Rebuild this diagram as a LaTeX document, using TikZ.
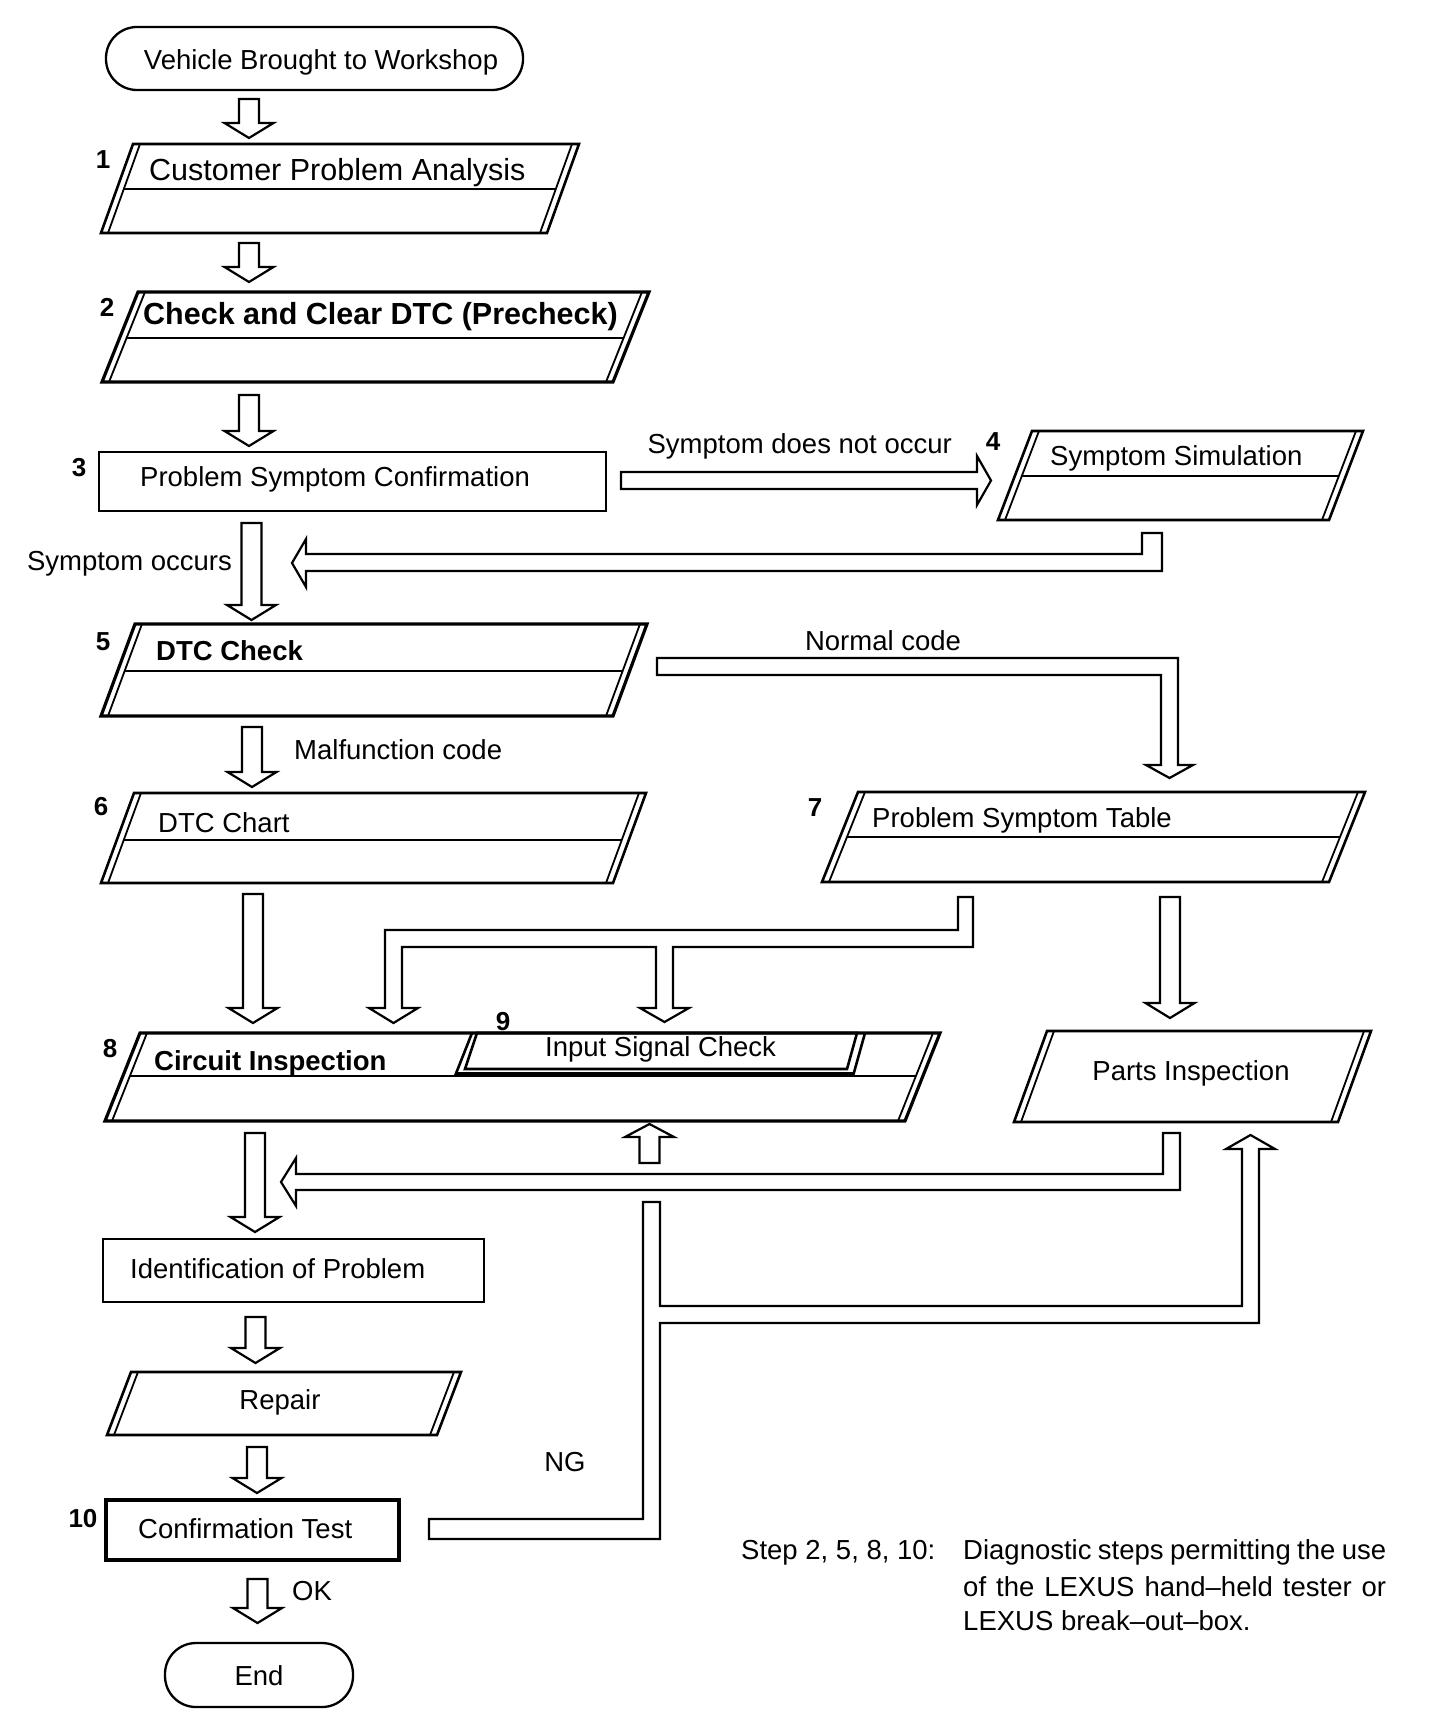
\documentclass[tikz,border=0pt]{standalone}
\usepackage{fontspec}
\setmainfont{Liberation Sans}
\usetikzlibrary{calc}
\tikzset{
  boxline/.style={line width=2.6pt, line join=miter},
  heavyline/.style={line width=3.2pt, line join=miter},
  innerline/.style={line width=1.8pt},
  arrowline/.style={line width=2.2pt, line join=miter, fill=white},
  txt/.style={font=\fontsize{27.5}{33}\selectfont, inner sep=0pt, text height=19.7pt, text depth=0pt},
  bigtxt/.style={font=\fontsize{30.5}{36}\selectfont, inner sep=0pt, text height=21.8pt, text depth=0pt},
  num/.style={font=\bfseries\fontsize{26}{30}\selectfont, inner sep=0pt, text height=18.6pt, text depth=0pt},
  terminal/.style={draw, line width=2.3pt, rounded corners=31pt, inner sep=0pt},
}
% parallelogram with double side edges: #1 top-left x, #2 top y, #3 top-right x, #4 bottom y, #5 slant, #6 style
\newcommand\pbox[6]{%
  \draw[#6] (#1,#2) -- (#3,#2) -- ({#3-#5},#4) -- ({#1-#5},#4) -- cycle;
  \draw[innerline] ({#1+7},#2) -- ({#1-#5+7},#4);
  \draw[innerline] ({#3-7},#2) -- ({#3-#5-7},#4);
}
\newcommand\downblock[2]{%
  \draw[arrowline] let \p1=(#1), \p2=(#2) in
    (\x1-10pt,\y1) -- (\x1+10pt,\y1) -- (\x1+10pt,\y2+15pt) -- (\x1+24.5pt,\y2+15pt)
    -- (\x1,\y2) -- (\x1-24.5pt,\y2+15pt) -- (\x1-10pt,\y2+15pt) -- cycle;
}
\newcommand\upblock[2]{%
  \draw[arrowline] let \p1=(#1), \p2=(#2) in
    (\x1-10pt,\y1) -- (\x1+10pt,\y1) -- (\x1+10pt,\y2-13pt) -- (\x1+24.5pt,\y2-13pt)
    -- (\x1,\y2) -- (\x1-24.5pt,\y2-13pt) -- (\x1-10pt,\y2-13pt) -- cycle;
}
\begin{document}
\begin{tikzpicture}[x=1pt,y=-1pt]
\useasboundingbox (0,0) rectangle (1440,1736);

% ---------- start terminal
\node[terminal, minimum width=417pt, minimum height=63pt] (start) at (314.5,58.5) {};
\node[txt] (tstart) at (321,60) {Vehicle Brought to Workshop};

% ---------- box 1
\pbox{133}{144}{579}{233}{32}{boxline}
\draw[boxline] (123.8,189) -- (555.8,189);
\node[bigtxt, anchor=west] (t1) at (149,170) {Customer Problem Analysis};
\node[num] (n1) at (103,159) {1};

% ---------- box 2
\pbox{138}{292}{649}{382}{36}{heavyline}
\draw[boxline] (126.6,338) -- (623.6,338);
\node[bigtxt, anchor=west] (t2) at (143,314) {\bfseries Check and Clear DTC (Precheck)};
\node[num] (n2) at (107,307) {2};

% ---------- box 3
\draw[boxline] (99,452) rectangle (606,511);
\node[txt, anchor=west] (t3) at (140,477) {Problem Symptom Confirmation};
\node[num] (n3) at (79,467) {3};

% ---------- box 4
\pbox{1032}{431}{1363}{520}{34}{boxline}
\draw[boxline] (1021.8,476) -- (1338.8,476);
\node[txt, anchor=west] (t4) at (1050,456) {Symptom Simulation};
\node[num] (n4) at (993,441) {4};
\node[txt, anchor=east] (lnot) at (952,444) {Symptom does not occur};

% ---------- box 5
\pbox{135}{624}{647}{716}{34}{heavyline}
\draw[boxline] (124.6,671) -- (622.6,671);
\node[txt, anchor=west] (t5) at (156,651) {\bfseries DTC Check};
\node[num] (n5) at (103,641) {5};
\node[txt, anchor=east] (locc) at (232,561) {Symptom occurs};
\node[txt] (lnormal) at (883,641) {Normal code};
\node[txt, anchor=west] (lmal) at (294,750) {Malfunction code};

% ---------- box 6
\pbox{134}{793}{646}{883}{33}{boxline}
\draw[boxline] (123.8,840) -- (621.8,840);
\node[txt, anchor=west] (t6) at (158,823) {DTC Chart};
\node[num] (n6) at (101,806) {6};

% ---------- box 7
\pbox{858}{792}{1365}{882}{36}{boxline}
\draw[boxline] (847,837) -- (1340,837);
\node[txt, anchor=west] (t7) at (872,818) {Problem Symptom Table};
\node[num] (n7) at (815,807) {7};

% ---------- box 8 with 9
\pbox{140}{1033}{940}{1121}{35}{heavyline}
\draw[boxline] (129.9,1076) -- (915.9,1076);
\draw[line width=4.2pt] (456,1074.5) -- (853,1074.5);
\draw[boxline] (472,1033) -- (455,1076);
\draw[boxline] (477,1033) -- (857,1033) -- (847,1069) -- (465,1069) -- cycle;
\draw[boxline] (865,1033) -- (853,1076);
\node[txt, anchor=west] (t8) at (154,1061) {\bfseries Circuit Inspection};
\node[num] (n8) at (110,1048) {8};
\node[txt, anchor=west] (t9) at (545,1047) {Input Signal Check};
\node[num] (n9) at (503,1021) {9};

% ---------- parts inspection
\pbox{1047}{1031}{1371}{1122}{33}{boxline}
\node[txt] (tparts) at (1191,1071) {Parts Inspection};

% ---------- identification
\draw[boxline] (103,1239) rectangle (484,1302);
\node[txt, anchor=west] (tid) at (130,1269) {Identification of Problem};

% ---------- repair
\pbox{131}{1372}{461}{1435}{24}{boxline}
\node[txt] (trep) at (280,1400) {Repair};

% ---------- confirmation test
\draw[line width=3.6pt] (106,1500) rectangle (399,1560);
\node[txt, anchor=west] (t10) at (138,1529) {Confirmation Test};
\node[num] (n10) at (83,1518) {10};

\node[txt] (lng) at (565,1462) {NG};
\node[txt, anchor=west] (lok) at (292,1591) {OK};

% ---------- end terminal
\node[terminal, minimum width=188pt, minimum height=64pt] (end) at (259,1675) {};
\node[txt] (tend) at (259,1676) {End};

% ---------- note
\node[txt, anchor=west] (notek) at (741,1550) {Step 2, 5, 8, 10:};
\node[txt, anchor=west] (note1) at (963,1550) {\makebox[423pt][s]{Diagnostic steps permitting the use}};
\node[txt, anchor=west] (note2) at (963,1587) {\makebox[423pt][s]{of the LEXUS hand–held tester or}};
\node[txt, anchor=west] (note3) at (963,1621) {LEXUS break–out–box.};

% ---------- straight block arrows
\coordinate (a1s) at (249,99);    \coordinate (a1t) at (249,138);
\coordinate (a2s) at (249,243);   \coordinate (a2t) at (249,282);
\coordinate (a3s) at (249,395);   \coordinate (a3t) at (249,446);
\coordinate (a4s) at (251.5,523); \coordinate (a4t) at (251.5,620);
\coordinate (a5s) at (252,727);   \coordinate (a5t) at (252,787);
\coordinate (a6s) at (253,894);   \coordinate (a6t) at (253,1023);
\coordinate (a7s) at (1170,897);  \coordinate (a7t) at (1170,1018);
\coordinate (a8s) at (255,1133);  \coordinate (a8t) at (255,1232);
\coordinate (a9s) at (255.5,1317);\coordinate (a9t) at (255.5,1363);
\coordinate (a10s) at (257,1447); \coordinate (a10t) at (257,1493);
\coordinate (a11s) at (257.5,1579);\coordinate (a11t) at (257.5,1623);
\coordinate (u1s) at (649.5,1163); \coordinate (u1t) at (649.5,1124);
\downblock{a1s}{a1t}
\downblock{a2s}{a2t}
\downblock{a3s}{a3t}
\downblock{a4s}{a4t}
\downblock{a5s}{a5t}
\downblock{a6s}{a6t}
\downblock{a7s}{a7t}
\downblock{a8s}{a8t}
\downblock{a9s}{a9t}
\downblock{a10s}{a10t}
\downblock{a11s}{a11t}
\upblock{u1s}{u1t}

% ---------- bent block arrows
% symptom does not occur -> 4
\draw[arrowline] (621,472) -- (977,472) -- (977,456) -- (991,480.5) -- (977,505) -- (977,489) -- (621,489) -- cycle;
% 4 -> back to main line
\draw[arrowline] (1142,533) -- (1162,533) -- (1162,571) -- (306,571) -- (306,587) -- (292,563) -- (306,539) -- (306,554) -- (1142,554) -- cycle;
% normal code -> 7
\draw[arrowline] (657,658) -- (1178,658) -- (1178,765) -- (1193,765) -- (1169.5,778) -- (1146,765) -- (1161,765) -- (1161,675) -- (657,675) -- cycle;
% 7 -> circuit inspection and input signal check
\draw[arrowline] (958,897) -- (973,897) -- (973,947) -- (673,947) -- (673,1008) -- (689,1008) -- (664.5,1022) -- (640,1008) -- (656,1008) -- (656,947) -- (402,947) -- (402,1008) -- (418,1008) -- (393.5,1023) -- (369,1008) -- (385,1008) -- (385,930) -- (958,930) -- cycle;
% parts inspection -> identification line
\draw[arrowline] (1163,1133) -- (1180,1133) -- (1180,1190) -- (296,1190) -- (296,1206) -- (281,1182) -- (296,1158) -- (296,1174) -- (1163,1174) -- cycle;
% NG loop
\draw[arrowline] (429,1519) -- (643,1519) -- (643,1202) -- (660,1202) -- (660,1306) -- (1242,1306) -- (1242,1149) -- (1226,1149) -- (1250.5,1135) -- (1275,1149) -- (1259,1149) -- (1259,1323) -- (660,1323) -- (660,1539) -- (429,1539) -- cycle;
\end{tikzpicture}
\end{document}
